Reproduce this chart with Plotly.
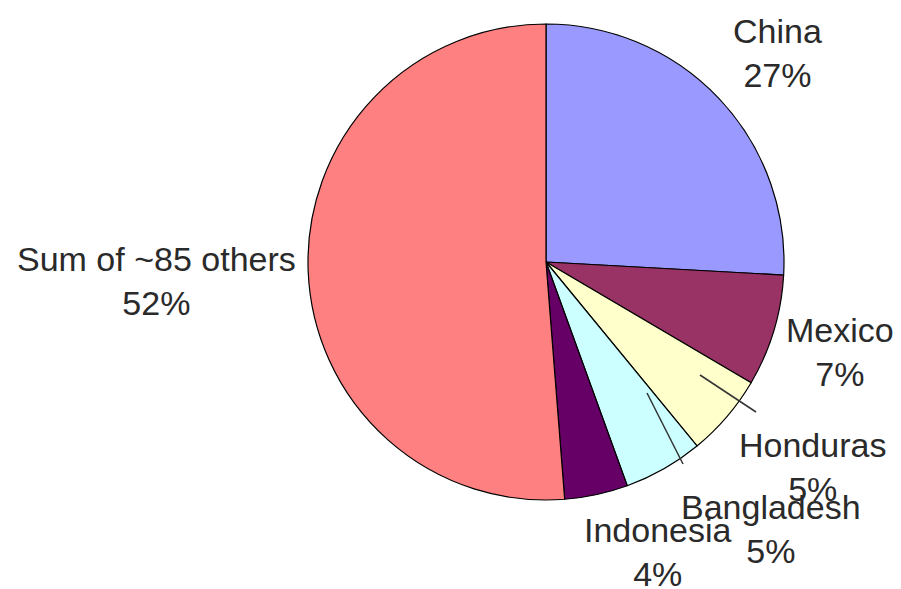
import plotly.graph_objects as go

# ---- data ----
countries = ["China", "Mexico", "Honduras", "Bangladesh", "Indonesia", "Sum of ~85 others"]
shares = [25.9, 7.6, 5.6, 5.4, 4.3, 51.3]          # slice sizes as drawn
shown_percent = [27, 7, 5, 5, 4, 52]              # percentages printed on the labels
colors = ["#9999FF", "#993366", "#FFFFCC", "#CCFFFF", "#660066", "#FF8080"]

W, H = 901, 589
cx, cy, r = 546, 262, 238  # pie placement in pixels

fig = go.Figure(go.Pie(
    labels=countries,
    values=shares,
    sort=False,
    direction="clockwise",
    rotation=0,
    marker=dict(colors=colors, line=dict(color="#000000", width=1.2)),
    textinfo="none",
    hoverinfo="label+percent",
    domain=dict(x=[(cx - r) / W, (cx + r) / W], y=[1 - (cy + r) / H, 1 - (cy - r) / H]),
    showlegend=False,
))

# label positions (pixel centres) — layout only
label_pos = {
    "China": (777, 53),
    "Mexico": (840, 352),
    "Honduras": (812, 467),
    "Bangladesh": (771, 529),
    "Indonesia": (658, 552),
    "Sum of ~85 others": (156, 281),
}

font = dict(family="Liberation Sans, Arial, sans-serif", size=34, color="#2a2a2a")
for name, pct in zip(countries, shown_percent):
    px, py = label_pos[name]
    fig.add_annotation(
        x=px / W, y=1 - py / H, xref="paper", yref="paper",
        text=f"{name}<br>{pct}%", showarrow=False, font=font,
        xanchor="center", yanchor="middle", align="center",
    )

# leader lines (pixel endpoints) — decoration
leaders = [((700, 375), (756, 412)), ((647, 393), (683, 464))]
for (x0, y0), (x1, y1) in leaders:
    fig.add_shape(type="line", xref="paper", yref="paper",
                  x0=x0 / W, y0=1 - y0 / H, x1=x1 / W, y1=1 - y1 / H,
                  line=dict(color="#333333", width=1.5))

fig.update_layout(
    width=W, height=H,
    margin=dict(l=0, r=0, t=0, b=0),
    paper_bgcolor="white", plot_bgcolor="white",
)

fig.write_html("out.html")
